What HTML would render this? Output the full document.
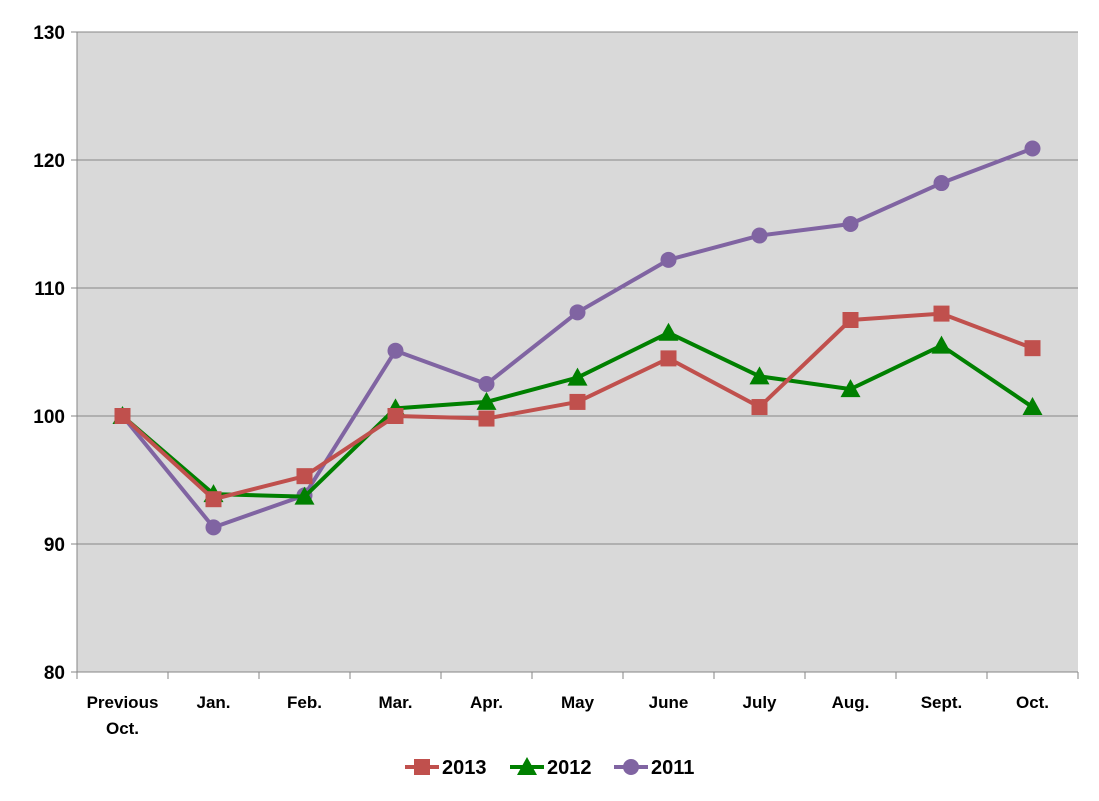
<!DOCTYPE html>
<html><head><meta charset="utf-8">
<style>
body{margin:0;background:#fff;width:1099px;height:796px;overflow:hidden;font-family:"Liberation Sans",Arial,sans-serif;}
svg text{font-family:"Liberation Sans",Arial,sans-serif;font-weight:bold;fill:#000;}
</style></head>
<body>
<svg id="chart" width="1099" height="796" xmlns="http://www.w3.org/2000/svg"></svg>
<script>
const categories=[["Previous","Oct."],["Jan."],["Feb."],["Mar."],["Apr."],["May"],["June"],["July"],["Aug."],["Sept."],["Oct."]];
const yTicks=[80,90,100,110,120,130];
const s2013=[100,93.5,95.3,100,99.8,101.1,104.5,100.7,107.5,108,105.3];
const s2012=[100,93.9,93.7,100.6,101.1,103,106.5,103.1,102.1,105.5,100.7];
const s2011=[100,91.3,93.8,105.1,102.5,108.1,112.2,114.1,115,118.2,120.9];
const seriesNames=["2013","2012","2011"];

const NS="http://www.w3.org/2000/svg";
const svg=document.getElementById('chart');
const L=77,R=1078,T=32,B=672,ymin=80,ymax=130;
const step=(R-L)/categories.length;
const xs=i=>L+step*(i+0.5);
const ys=v=>B-(v-ymin)/(ymax-ymin)*(B-T);
function mk(tag,attrs,parent){const e=document.createElementNS(NS,tag);for(const k in attrs)e.setAttribute(k,attrs[k]);(parent||svg).appendChild(e);return e;}

const plot=mk('rect',{x:L,y:T,width:R-L,height:B-T,fill:'#d9d9d9'});


yTicks.forEach(v=>{
  const g=mk('line',{x1:L,x2:R,y1:ys(v),y2:ys(v),stroke:'#868686','stroke-width':1});
  
  
  const tk=mk('line',{x1:L-6,x2:L,y1:ys(v),y2:ys(v),stroke:'#868686'});
  
  
  const t=mk('text',{x:L-12,y:ys(v)+7,'text-anchor':'end','font-size':19});
  t.textContent=v;
  
  
});
const ax=mk('line',{x1:L,x2:L,y1:T,y2:B,stroke:'#868686'});


const axx=mk('line',{x1:L,x2:R,y1:B,y2:B,stroke:'#868686'});


for(let i=0;i<=categories.length;i++){
  const tk=mk('line',{x1:L+step*i,x2:L+step*i,y1:B,y2:B+7,stroke:'#868686'});
  
  
}
categories.forEach((c,i)=>{
  c.forEach((ln,j)=>{
    const t=mk('text',{x:xs(i),y:708+j*26,'text-anchor':'middle','font-size':17});
    t.textContent=ln;
    
    
  });
});
function marker(type,x,y,color,parent){
  if(type==='square'){return mk('rect',{x:x-8,y:y-8,width:16,height:16,fill:color},parent);}
  if(type==='tri'){return mk('polygon',{points:`${x},${y-10} ${x+10},${y+8} ${x-10},${y+8}`,fill:color},parent);}
  return mk('circle',{cx:x,cy:y,r:8,fill:color},parent);
}
const defs=[[s2013,'#c0504d','square'],[s2012,'#008000','tri'],[s2011,'#8064a2','circle']];
defs.slice().reverse().forEach(([data,color,type],k)=>{
  const idx=2-k;
  const g=mk('g',{});
  
  
  const p=mk('polyline',{points:data.map((v,i)=>xs(i)+','+ys(v)).join(' '),fill:'none',stroke:color,'stroke-width':4,'stroke-linejoin':'round'},g);
  
  
  data.forEach((v,i)=>{
    const m=marker(type,xs(i),ys(v),color,g);
    
    
  });
});
const legX=[405,510,614];
defs.forEach(([d,color,type],k)=>{
  const g=mk('g',{});
  
  
  const x=legX[k],y=767;
  mk('line',{x1:x,x2:x+34,y1:y,y2:y,stroke:color,'stroke-width':4},g);
  marker(type,x+17,y,color,g);
  const t=mk('text',{x:x+37,y:y+7,'font-size':20},g);
  t.textContent=seriesNames[k];
});
</script>
</body></html>
